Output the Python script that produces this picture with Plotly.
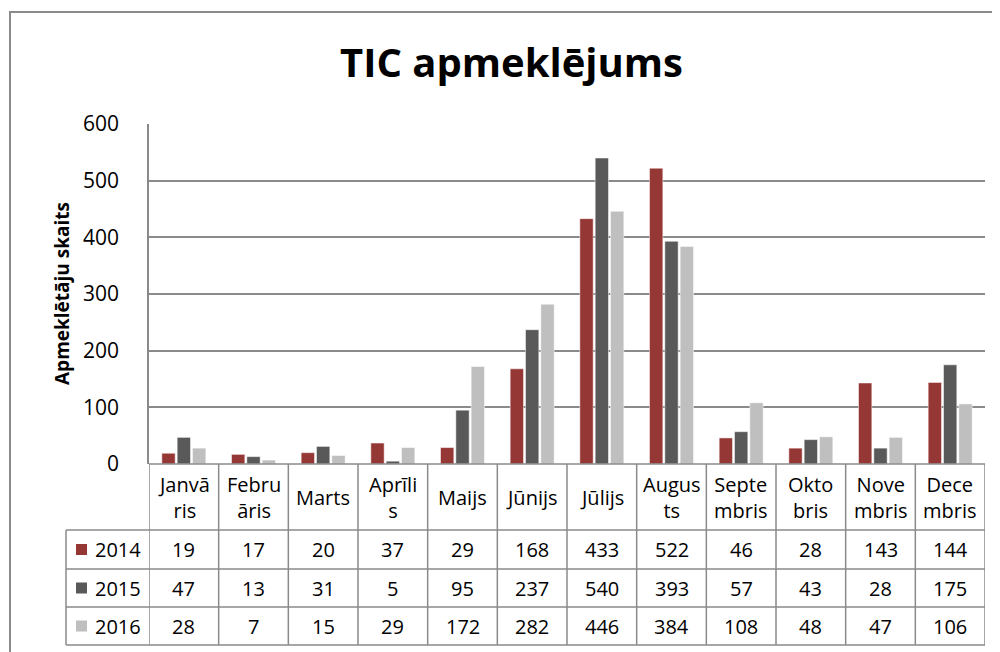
import plotly.graph_objects as go

# Data
months = ['Janvā<br>ris', 'Febru<br>āris', 'Marts', 'Aprīli<br>s', 'Maijs', 'Jūnijs',
          'Jūlijs', 'Augus<br>ts', 'Septe<br>mbris', 'Okto<br>bris', 'Nove<br>mbris', 'Dece<br>mbris']
years = ['2014', '2015', '2016']
v2014 = [19, 17, 20, 37, 29, 168, 433, 522, 46, 28, 143, 144]
v2015 = [47, 13, 31, 5, 95, 237, 540, 393, 57, 43, 28, 175]
v2016 = [28, 7, 15, 29, 172, 282, 446, 384, 108, 48, 47, 106]
y_ticks = [0, 100, 200, 300, 400, 500, 600]

series = [v2014, v2015, v2016]
colors = ['#953735', '#595959', '#bfbfbf']
FONT = 'Open Sans'
GRID = '#8a8a8a'

# page body has an 8px margin, so shrink the figure and shift everything by it
OFF = 8
W, H = 1000 - OFF, 652 - OFF


def px(x):
    return (x - OFF) / W


def py(y):
    return 1 - (y - OFF) / H


fig = go.Figure()
for year, vals, col in zip(years, series, colors):
    fig.add_trace(go.Bar(x=months, y=vals, name=year, marker_color=col,
                         marker_line=dict(color='white', width=0.5)))

fig.update_layout(
    width=W, height=H,
    margin=dict(l=0, r=0, t=0, b=0, pad=0),
    paper_bgcolor='white', plot_bgcolor='white',
    barmode='group', bargap=0.34, bargroupgap=0.13,
    showlegend=False,
    font=dict(family=FONT, size=20, color='black'),
    xaxis=dict(domain=[px(149), px(985)], range=[-0.5, 11.5], showticklabels=False,
               showgrid=False, zeroline=False, showline=False, fixedrange=True,
               automargin=False),
    yaxis=dict(domain=[py(464), py(124)], range=[0, 600], tickvals=y_ticks,
               showgrid=True, gridcolor=GRID, gridwidth=1.5, zeroline=False,
               showline=True, linecolor=GRID, linewidth=1.5,
               ticks='', ticklabelstandoff=24, automargin=False, fixedrange=True,
               tickfont=dict(family=FONT, size=21, color='black')),
)

shapes = []
ann = []

# outer chart border
shapes.append(dict(type='rect', xref='paper', yref='paper', x0=px(10), x1=px(1010),
                   y0=py(12), y1=py(670), line=dict(color=GRID, width=2)))

# data table grid
row_lines = [464, 530, 569, 607, 645]
for i, yl in enumerate(row_lines):
    x0 = px(149) if i == 0 else px(66)
    shapes.append(dict(type='line', xref='paper', yref='paper', x0=x0, x1=px(985),
                       y0=py(yl), y1=py(yl), line=dict(color=GRID, width=1.5)))
for i in range(len(months) + 1):
    shapes.append(dict(type='line', xref='x', yref='paper', x0=i - 0.5, x1=i - 0.5,
                       y0=py(464), y1=py(645), line=dict(color=GRID, width=1.5)))
shapes.append(dict(type='line', xref='paper', yref='paper', x0=px(66), x1=px(66),
                   y0=py(530), y1=py(645), line=dict(color=GRID, width=1.5)))

# category labels
for m in months:
    ann.append(dict(x=m, xref='x', y=py(497), yref='paper', text=m,
                    xanchor='center', yanchor='middle', showarrow=False))

# table rows
row_centers = [549.5, 588, 626]
for yc, year, vals, col in zip(row_centers, years, series, colors):
    shapes.append(dict(type='rect', xref='paper', yref='paper', x0=px(76), x1=px(87),
                       y0=py(yc - 5.5), y1=py(yc + 5.5), fillcolor=col, line=dict(width=0)))
    ann.append(dict(x=px(93), xref='paper', y=py(yc), yref='paper', text=year,
                    xanchor='left', yanchor='middle', showarrow=False))
    for m, v in zip(months, vals):
        ann.append(dict(x=m, xref='x', y=py(yc), yref='paper', text=str(v),
                        xanchor='center', yanchor='middle', showarrow=False))

# title and axis title
ann.append(dict(x=px(511), xref='paper', y=py(62), yref='paper', text='<b>TIC apmeklējums</b>',
                xanchor='center', yanchor='middle', showarrow=False, font=dict(size=40)))
ann.append(dict(x=px(62), xref='paper', y=py(294), yref='paper', text='<b>Apmeklētāju skaits</b>',
                xanchor='center', yanchor='middle', textangle=-90, showarrow=False,
                font=dict(size=19)))

fig.update_layout(shapes=shapes, annotations=ann)
fig.write_html('out.html')
